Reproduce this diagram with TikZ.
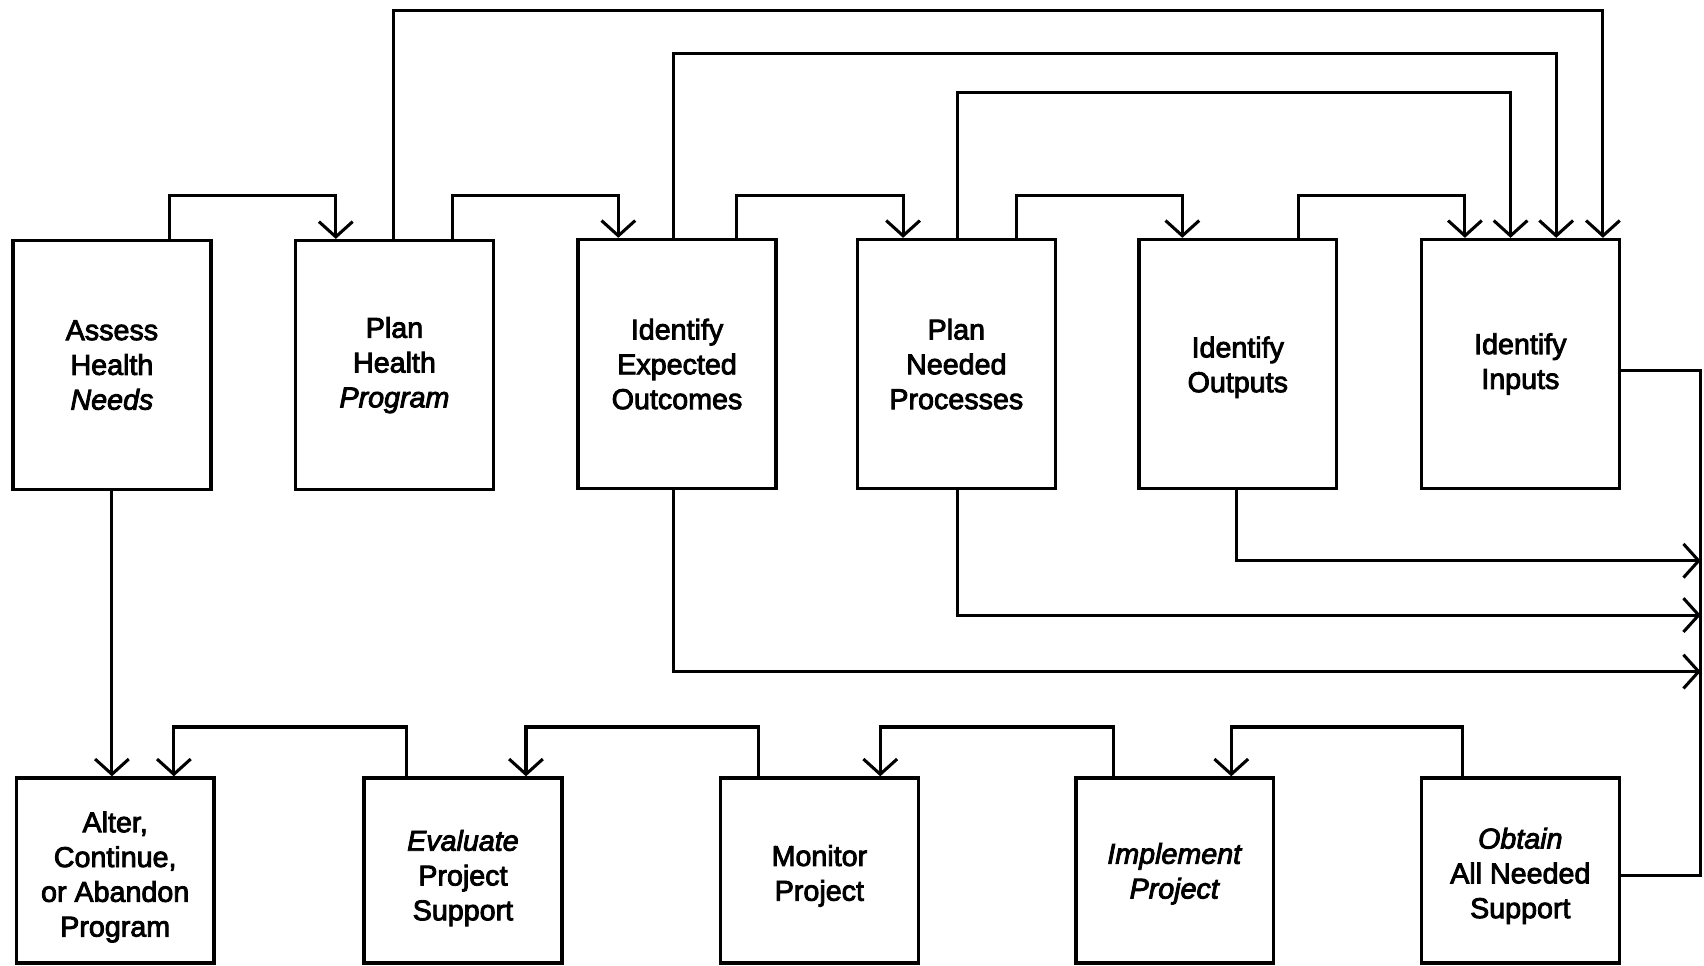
\documentclass[tikz,border=0pt]{standalone}
\usepackage{fontspec}
\newfontfamily\boxfont{Liberation Sans}[FakeBold=3,ItalicFeatures={FakeBold=3}]
\usetikzlibrary{arrows.meta}
\begin{document}
\begin{tikzpicture}[x=0.01cm,y=-0.01cm,
  line width=0.8pt,
  txt/.style={align=center,inner sep=0pt,font=\boxfont\fontsize{7.5}{9.1}\selectfont},
  stepbox/.style={draw,line width=0.9pt,minimum width=1.82cm,txt},
  topbox/.style={stepbox,minimum height=2.29cm},
  botbox/.style={stepbox,minimum height=1.70cm},
  arr/.style={-{Straight Barb[length=1.4mm,width=3.1mm,line width=0.8pt]}}]
\useasboundingbox (0,0) rectangle (1568,888);
% top row
\node[topbox] (A1) at (103,336) {Assess\\Health\\\textit{Needs}};
\node[topbox] (A2) at (363,336) {Plan\\Health\\\textit{Program}};
\node[topbox] (A3) at (623,335) {Identify\\Expected\\Outcomes};
\node[topbox] (A4) at (880,335) {Plan\\Needed\\Processes};
\node[topbox,label={[txt,yshift=-0.3mm]center:Identify\\Outputs}] (A5) at (1139,335) {};
\node[topbox] (A6) at (1399,335) {Identify\\Inputs};
% bottom row
\node[botbox,label={[txt,yshift=-0.6mm]center:Alter,\\Continue,\\or Abandon\\Program}] (B1) at (106,801) {};
\node[botbox,label={[txt,yshift=-0.7mm]center:\textit{Evaluate}\\Project\\Support}] (B2) at (426,801) {};
\node[botbox,label={[txt,yshift=-0.5mm]center:Monitor\\Project}] (B3) at (754,801) {};
\node[botbox,label={[txt,yshift=-0.3mm]center:\textit{Implement}\\\textit{Project}}] (B4) at (1081,801) {};
\node[botbox,label={[txt,yshift=-0.5mm]center:\textit{Obtain}\\All Needed\\Support}] (B5) at (1399,801) {};
% short top loops
\draw[arr] (A1.north -| 156,0) |- (309,180) -- (A2.north -| 309,0);
\draw[arr] (A2.north -| 416,0) |- (569,180) -- (A3.north -| 569,0);
\draw[arr] (A3.north -| 678,0) |- (831,180) -- (A4.north -| 831,0);
\draw[arr] (A4.north -| 935,0) |- (1088,180) -- (A5.north -| 1088,0);
\draw[arr] (A5.north -| 1195,0) |- (1348,180) -- (A6.north -| 1348,0);
% long top loops
\draw[arr] (A4.north -| 881,0) |- (1390,85) -- (A6.north -| 1390,0);
\draw[arr] (A3.north -| 620,0) |- (1432,49) -- (A6.north -| 1432,0);
\draw[arr] (A2.north -| 362,0) |- (1475,10) -- (A6.north -| 1475,0);
% right collector
\coordinate (R1) at (1565,516);
\coordinate (R2) at (1565,566);
\coordinate (R3) at (1565,618);
\draw (A6.east |- 0,341) -| (1565,806) -- (B5.east |- 0,806);
\draw[arr] (A5.south -| 1138,0) |- (R1);
\draw[arr] (A4.south -| 881,0) |- (R2);
\draw[arr] (A3.south -| 620,0) |- (R3);
% bottom loops
\draw[arr] (B5.north -| 1346,0) |- (1133,669) -- (B4.north -| 1133,0);
\draw[arr] (B4.north -| 1025,0) |- (810,669) -- (B3.north -| 810,0);
\draw[arr] (B3.north -| 698,0) |- (484,669) -- (B2.north -| 484,0);
\draw[arr] (B2.north -| 374,0) |- (160,669) -- (B1.north -| 160,0);
\draw[arr] (A1.south -| 103,0) -- (B1.north -| 103,0);
\end{tikzpicture}
\end{document}
